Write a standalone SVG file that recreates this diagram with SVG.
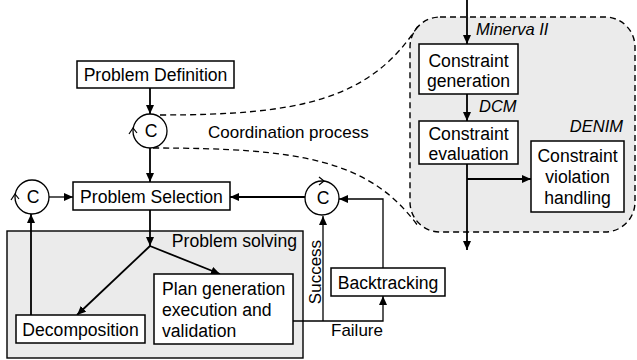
<svg xmlns="http://www.w3.org/2000/svg" width="637" height="360" viewBox="0 0 637 360">
<style>
text{font-family:"Liberation Sans",Arial,sans-serif;font-size:17px;fill:#000}
.bt{font-size:17.6px}
.it{font-style:italic;font-size:16.5px}
.mid{text-anchor:middle}
.end{text-anchor:end}
.box{fill:#fff;stroke:#000;stroke-width:1.5}
.area{fill:#ebebeb;stroke:#000;stroke-width:1.4}
.c{fill:#fff;stroke:#000;stroke-width:1.3}
.ln{fill:none;stroke:#000;stroke-width:1.8}
.thin{fill:none;stroke:#000;stroke-width:1.3}
.dash{fill:none;stroke:#000;stroke-width:1.3;stroke-dasharray:6,4}
.hook{fill:none;stroke:#000;stroke-width:1.2}
</style>
<defs>
<marker id="ah" markerUnits="userSpaceOnUse" markerWidth="10" markerHeight="9" refX="9" refY="4" orient="auto">
<path d="M0,0 L9,4 L0,8 z" fill="#000"/>
</marker>
</defs>
<g id="problem-solving-area">
<rect class="area" x="7" y="231" width="296" height="127"/>
<text class="end bt" x="297" y="247">Problem solving</text>
</g>
<g id="detail-panel">
<rect x="410" y="17" width="225" height="215" rx="30" ry="30" fill="#ebebeb" stroke="#000" stroke-width="1.4" stroke-dasharray="6,4"/>
<text class="it" x="476" y="35">Minerva II</text>
<text class="it" x="479" y="112">DCM</text>
<text class="it end" x="623" y="132">DENIM</text>
</g>
<g id="connectors">
<line class="ln" x1="150" y1="88" x2="150" y2="114" marker-end="url(#ah)"/>
<line class="ln" x1="150" y1="148" x2="150" y2="182" marker-end="url(#ah)"/>
<line class="thin" x1="49" y1="197" x2="73" y2="197" marker-end="url(#ah)"/>
<line class="ln" x1="305" y1="197" x2="230" y2="197" marker-end="url(#ah)"/>
<line class="ln" x1="150" y1="210" x2="150" y2="246" marker-end="url(#ah)"/>
<line class="ln" x1="150" y1="246" x2="77" y2="315" marker-end="url(#ah)"/>
<line class="ln" x1="150" y1="246" x2="220" y2="274" marker-end="url(#ah)"/>
<line class="ln" x1="31" y1="315" x2="31" y2="214" marker-end="url(#ah)"/>
<polyline class="thin" points="293,321 383,321 383,296" marker-end="url(#ah)"/>
<line class="thin" x1="323" y1="321" x2="323" y2="216" marker-end="url(#ah)"/>
<polyline class="thin" points="383,268 383,199 339,199" marker-end="url(#ah)"/>
<line class="ln" x1="467" y1="0" x2="467" y2="44" marker-end="url(#ah)"/>
<line class="ln" x1="467" y1="94" x2="467" y2="121" marker-end="url(#ah)"/>
<line class="ln" x1="467" y1="164" x2="467" y2="250" marker-end="url(#ah)"/>
<line class="ln" x1="467" y1="179" x2="531" y2="179" marker-end="url(#ah)"/>
<path class="dash" d="M160,115 C300,115 370,100 418,26"/>
<path class="dash" d="M153,148 C300,148 370,160 418,226"/>
<text x="208" y="138">Coordination process</text>
<text transform="translate(321,272) rotate(-90)" class="mid">Success</text>
<text x="331" y="336">Failure</text>
</g>
<g id="problem-definition">
<rect class="box" x="77" y="61" width="157" height="27"/>
<text class="mid bt" x="155.5" y="81">Problem Definition</text>
</g>
<g id="coord-top">
<circle class="c" cx="150" cy="131" r="17"/>
<text class="mid bt" x="151" y="137">C</text>
<polyline class="hook" points="129,134 133,128 137,133"/>
</g>
<g id="coord-left">
<circle class="c" cx="32" cy="197" r="17"/>
<text class="mid bt" x="33" y="203">C</text>
<polyline class="hook" points="11,200 15,194 19,199"/>
</g>
<g id="coord-right">
<circle class="c" cx="322" cy="198" r="17"/>
<text class="mid bt" x="323" y="204">C</text>
<polyline class="hook" points="319,177 324,181 319,185"/>
</g>
<g id="problem-selection">
<rect class="box" x="73" y="182" width="157" height="28"/>
<text class="mid bt" x="151.5" y="203">Problem Selection</text>
</g>
<g id="decomposition">
<rect class="box" x="16" y="315" width="129" height="28"/>
<text class="mid bt" x="80.5" y="336">Decomposition</text>
</g>
<g id="plan-generation">
<rect class="box" x="154" y="274" width="139" height="70"/>
<text class="bt" x="162" y="295">Plan generation</text>
<text class="bt" x="162" y="316">execution and</text>
<text class="bt" x="162" y="337">validation</text>
</g>
<g id="backtracking">
<rect class="box" x="331" y="268" width="114" height="28"/>
<text class="mid bt" x="388" y="289">Backtracking</text>
</g>
<g id="constraint-generation">
<rect class="box" x="419" y="44" width="99" height="50"/>
<text class="mid bt" x="468.5" y="67">Constraint</text>
<text class="mid bt" x="468.5" y="87">generation</text>
</g>
<g id="constraint-evaluation">
<rect class="box" x="419" y="121" width="99" height="43"/>
<text class="mid bt" x="468.5" y="140">Constraint</text>
<text class="mid bt" x="468.5" y="160">evaluation</text>
</g>
<g id="constraint-violation">
<rect class="box" x="531" y="141" width="93" height="71"/>
<text class="mid bt" x="577.5" y="162">Constraint</text>
<text class="mid bt" x="577.5" y="183">violation</text>
<text class="mid bt" x="577.5" y="204">handling</text>
</g>
</svg>
